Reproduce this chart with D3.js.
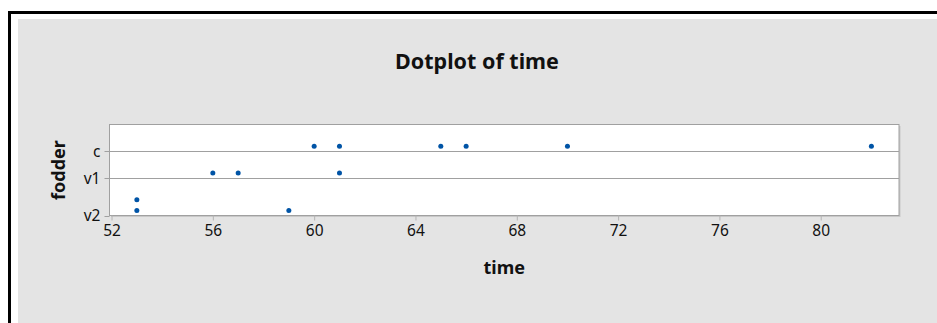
<!DOCTYPE html>
<html>
<head>
<meta charset="utf-8">
<script src="https://cdn.jsdelivr.net/npm/d3@7"></script>
<style>
  body { margin: 0; background: #fff; }
  text { font-family: "Noto Sans", "Open Sans", sans-serif; fill: #111; }
</style>
</head>
<body>
<div id="chart"></div>
<script>
var groups = ["c", "v1", "v2"];
var timeC = [60, 61, 65, 66, 70, 82];
var timeV1 = [56, 57, 61];
var timeV2 = [53, 53, 59];
var xTicks = [52, 56, 60, 64, 68, 72, 76, 80];

var width = 937, height = 323;

// plot box
var margin = { top: 124.5, left: 109.5, right: 38, bottom: 107.5 };
var plotRight = width - margin.right;
var plotBottom = height - margin.bottom;

var svg = d3.select("#chart").append("svg")
  .attr("width", width)
  .attr("height", height);

// outer frame + grey panel
svg.append("rect")
  .attr("x", 18).attr("y", 19)
  .attr("width", width).attr("height", height)
  .attr("fill", "#e4e4e4");
svg.append("path")
  .attr("d", "M9.5," + height + "V12.5H" + width)
  .attr("fill", "none")
  .attr("stroke", "#000")
  .attr("stroke-width", 3);

var xScale = d3.scaleLinear()
  .domain([51.92, 83.09])
  .range([margin.left, plotRight]);

// build stacks per group
var byGroup = { "c": timeC, "v1": timeV1, "v2": timeV2 };
var dots = [];
var maxStack = {};
groups.forEach(function(g) {
  var counts = {};
  maxStack[g] = 1;
  byGroup[g].forEach(function(v) {
    var k = counts[v] || 0;
    counts[v] = k + 1;
    maxStack[g] = Math.max(maxStack[g], k + 1);
    dots.push({ group: g, time: v, level: k });
  });
});

// vertical units: one dot step = 1, each row gets 2.5 + extra stacked dots
var rowUnit = 2.5;
var baseline = {};
var acc = 0;
groups.slice().reverse().forEach(function(g) {
  baseline[g] = acc;
  acc += rowUnit + (maxStack[g] - 1);
});
var totalUnits = acc;

var yScale = d3.scaleLinear()
  .domain([0, totalUnits])
  .range([plotBottom, margin.top]);

// plot background with a soft shadow
svg.append("rect")
  .attr("x", margin.left + 1.5).attr("y", margin.top + 1.5)
  .attr("width", plotRight - margin.left).attr("height", plotBottom - margin.top)
  .attr("fill", "#c8c8c8");
svg.append("rect")
  .attr("x", margin.left).attr("y", margin.top)
  .attr("width", plotRight - margin.left).attr("height", plotBottom - margin.top)
  .attr("fill", "#fff")
  .attr("stroke", "#a0a0a0")
  .attr("stroke-width", 1);

// group baselines
svg.selectAll("line.base")
  .data(groups.filter(function(g) { return baseline[g] > 0; }))
  .enter().append("line")
  .attr("class", "base")
  .attr("x1", margin.left).attr("x2", plotRight)
  .attr("y1", function(g) { return Math.round(yScale(baseline[g])) + 0.5; })
  .attr("y2", function(g) { return Math.round(yScale(baseline[g])) + 0.5; })
  .attr("stroke", "#a0a0a0");

// y ticks + labels
var yAxis = svg.append("g");
yAxis.selectAll("line")
  .data(groups).enter().append("line")
  .attr("x1", margin.left - 5).attr("x2", margin.left)
  .attr("y1", function(g) { return Math.round(yScale(baseline[g])) + 0.5; })
  .attr("y2", function(g) { return Math.round(yScale(baseline[g])) + 0.5; })
  .attr("stroke", "#a0a0a0");
yAxis.selectAll("text")
  .data(groups).enter().append("text")
  .attr("x", margin.left - 9)
  .attr("y", function(g) { return yScale(baseline[g]) + 5.5; })
  .attr("text-anchor", "end")
  .style("font-size", "15.5px")
  .text(function(g) { return g; });

// x axis
var xAxis = svg.append("g")
  .attr("transform", "translate(0," + plotBottom + ")")
  .call(d3.axisBottom(xScale).tickValues(xTicks).tickSize(5).tickSizeOuter(0).tickFormat(d3.format("d")));
xAxis.select(".domain").remove();
xAxis.selectAll(".tick line").attr("stroke", "#b4b4b4");
xAxis.selectAll(".tick text")
  .attr("y", 9)
  .style("font-size", "15.5px")
  .style("font-family", "'Noto Sans', sans-serif")
  .attr("fill", "#111");

// dots
svg.selectAll("circle")
  .data(dots).enter().append("circle")
  .attr("cx", function(d) { return xScale(d.time); })
  .attr("cy", function(d) { return yScale(baseline[d.group] + 0.47 + d.level); })
  .attr("r", 2.5)
  .attr("fill", "#0054a6");

// titles
svg.append("text")
  .attr("x", 477).attr("y", 69)
  .attr("text-anchor", "middle")
  .style("font-size", "21.5px")
  .style("font-weight", "bold")
  .text("Dotplot of time");

svg.append("text")
  .attr("x", (margin.left + plotRight) / 2).attr("y", 274)
  .attr("text-anchor", "middle")
  .style("font-size", "18px")
  .style("font-weight", "bold")
  .text("time");

svg.append("text")
  .attr("transform", "translate(65," + (margin.top + plotBottom) / 2 + ") rotate(-90)")
  .attr("text-anchor", "middle")
  .style("font-size", "18px")
  .style("font-weight", "bold")
  .text("fodder");
</script>
</body>
</html>
